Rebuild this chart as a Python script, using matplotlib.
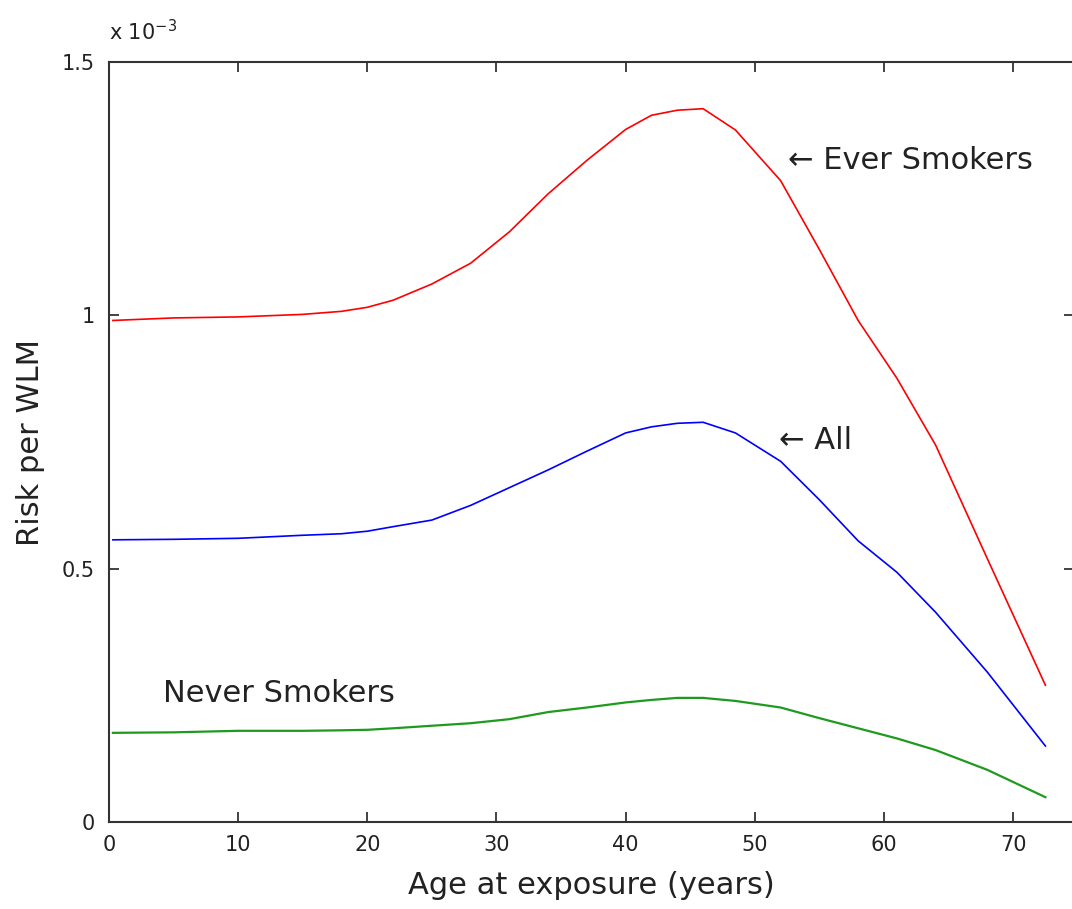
import numpy as np
import matplotlib
matplotlib.use('Agg')
import matplotlib.pyplot as plt

plt.rcParams['font.family'] = ['DejaVu Sans']

# age at exposure (years)
age = [0.3, 5, 10, 15, 18, 20, 22, 25, 28, 31, 34, 37, 40, 42, 44, 46,
       48.5, 52, 55, 58, 61, 64, 68, 72.5]
# risk per WLM (x 1e-3)
ever_smokers = [0.99, 0.995, 0.997, 1.002, 1.008, 1.016, 1.03, 1.062, 1.103,
                1.165, 1.24, 1.306, 1.367, 1.395, 1.405, 1.408, 1.366, 1.266,
                1.13, 0.99, 0.876, 0.744, 0.52, 0.27]
all_miners = [0.557, 0.558, 0.560, 0.566, 0.569, 0.574, 0.583, 0.596, 0.625,
              0.66, 0.695, 0.732, 0.768, 0.78, 0.787, 0.789, 0.768, 0.712,
              0.636, 0.555, 0.493, 0.414, 0.296, 0.150]
never_smokers = [0.176, 0.177, 0.18, 0.18, 0.181, 0.182, 0.185, 0.19, 0.195,
                 0.203, 0.217, 0.226, 0.236, 0.241, 0.245, 0.245, 0.239, 0.226,
                 0.205, 0.185, 0.165, 0.142, 0.103, 0.049]

xticks = [0, 10, 20, 30, 40, 50, 60, 70]
yticks = [0, 0.5, 1, 1.5]
ytick_labels = ['0', '0.5', '1', '1.5']

fig = plt.figure(figsize=(10.72, 9.09), dpi=100)
ax = fig.add_axes([0.1017, 0.0957, 0.9, 0.836])

ax.plot(age, ever_smokers, color='#ff0000', lw=1.2)
ax.plot(age, all_miners, color='#0000ff', lw=1.2)
ax.plot(age, never_smokers, color='#1f9a1f', lw=1.6)

ax.set_xlim(0, 74.7)
ax.set_ylim(0, 1.5)
ax.set_xticks(xticks)
ax.set_yticks(yticks)
ax.set_yticklabels(ytick_labels)
ax.tick_params(direction='in', length=7, width=1.2, top=True, right=True,
               labelsize=15, colors='#222222')
ax.tick_params(axis='x', pad=9)
ax.tick_params(axis='y', pad=10)
for s in ax.spines.values():
    s.set_linewidth(1.5)
    s.set_color('#333333')

ax.set_xlabel('Age at exposure (years)', fontsize=22, color='#222222', labelpad=12)
ax.set_ylabel('Risk per WLM', fontsize=22, color='#222222', labelpad=12)

ax.text(0, 1.543, r'x 10$^{\mathregular{-3}}$', fontsize=15, color='#222222',
        ha='left', va='baseline')

ax.text(52.6, 1.306, '\u2190 Ever Smokers', fontsize=22, color='#222222', va='center')
ax.text(51.9, 0.754, '\u2190 All', fontsize=22, color='#222222', va='center')
ax.text(4.2, 0.254, 'Never Smokers', fontsize=22, color='#222222', va='center')

fig.savefig('out.png', dpi=100)
